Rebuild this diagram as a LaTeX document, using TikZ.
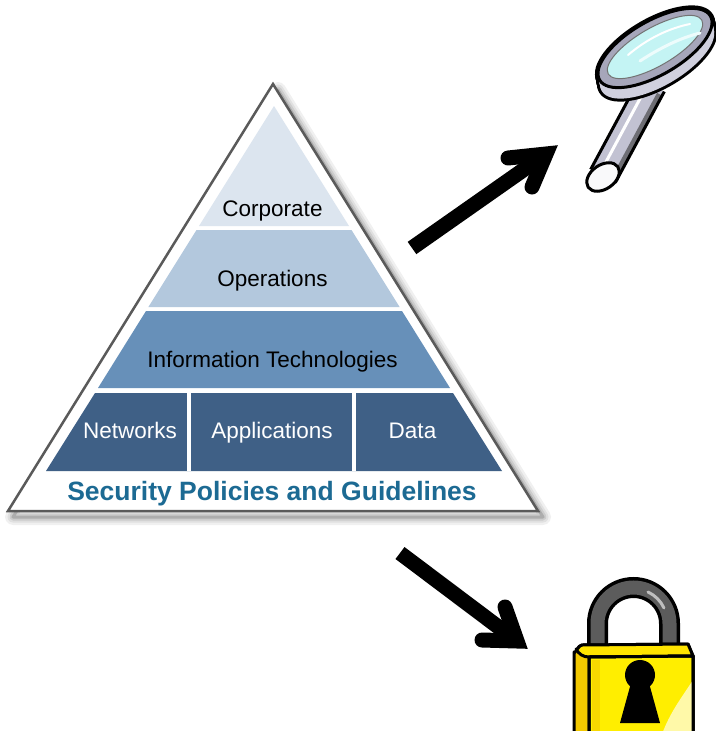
\documentclass[tikz,border=0pt]{standalone}
\usepackage{fontspec}
\setmainfont{Liberation Sans}
\usetikzlibrary{calc}

\definecolor{bandTop}{HTML}{DCE5EF}
\definecolor{bandOps}{HTML}{B3C8DD}
\definecolor{bandIT}{HTML}{6790B9}
\definecolor{bandBase}{HTML}{3F6086}
\definecolor{policyBlue}{HTML}{1C6A93}
\definecolor{edgeGray}{HTML}{5A5A5A}
\definecolor{glass}{HTML}{C4F4F4}
\definecolor{rim}{HTML}{A6A6BA}
\definecolor{rimSide}{HTML}{D0D0DE}
\definecolor{steel}{HTML}{C2C2D2}
\definecolor{steelDark}{HTML}{6E6E74}
\definecolor{lockSide}{HTML}{F2C800}
\definecolor{lockTop}{HTML}{FFE400}
\definecolor{lockFront}{HTML}{FFEE00}
\definecolor{lockShine}{HTML}{FFF9A8}
\definecolor{shackle}{HTML}{5C5C5C}

\tikzset{
  label/.style={font=\fontsize{22.5}{27}\selectfont, inner sep=0pt, anchor=base},
  darklabel/.style={label, text=black},
  lightlabel/.style={label, text=white},
  policy/.style={font=\fontsize{26.5}{30}\selectfont\bfseries, text=policyBlue, inner sep=0pt, anchor=base},
  bigarrow/.style={line width=15pt, black},
  outline/.style={draw=black, line width=3pt, line join=round},
}

\begin{document}
\begin{tikzpicture}[x=1pt,y=-1pt]
\useasboundingbox (0,0) rectangle (715,731);

% ---------- pyramid: soft drop shadow ----------
\foreach \w/\c in {16/6, 11/12, 7/20, 3/32} {
  \draw[black!\c, line width=\w pt, line join=round]
    (278,90) -- (543,517) -- (13,517) -- cycle;
}
% outer frame
\draw[fill=white, draw=edgeGray, line width=2.5pt, line join=miter]
  (273,84) -- (538,511) -- (8,511) -- cycle;

% tiers
\fill[bandTop]  (274,106) -- (349,226) -- (199,226) -- cycle;
\fill[bandOps]  (196.5,230) -- (351.5,230) -- (399.6,307) -- (148.4,307) -- cycle;
\fill[bandIT]   (146,311) -- (402,311) -- (450,388) -- (98,388) -- cycle;
\fill[bandBase] (95,393) -- (453,393) -- (502,471) -- (46,471) -- cycle;
% separators of the base tier
\fill[white] (187,393) rectangle (190.5,471);
\fill[white] (352,393) rectangle (355.5,471);

% tier labels
\node[darklabel]  (corp) at (272.5,216) {Corporate};
\node[darklabel]  (ops)  at (272.5,286) {Operations};
\node[darklabel]  (it)   at (272.5,367) {Information Technologies};
\node[lightlabel] (net)  at (130,438)   {Networks};
\node[lightlabel] (app)  at (272,438)   {Applications};
\node[lightlabel] (data) at (412.5,438) {Data};
\node[policy]     (pol)  at (272,500)   {Security Policies and Guidelines};

% ---------- arrows ----------
\coordinate (upTail) at (412,248);
\coordinate (upHead) at (546,154);
\coordinate (upArmA) at (508,158);
\coordinate (upArmB) at (532,187);
\draw[bigarrow, line cap=butt] (upTail) -- (upHead);
\draw[bigarrow, line cap=round, line join=miter] (upArmA) -- (upHead) -- (upArmB);

\coordinate (dnTail) at (400,553);
\coordinate (dnHead) at (517,641);
\coordinate (dnArmA) at (505,607);
\coordinate (dnArmB) at (482,640);
\draw[bigarrow, line cap=butt] (dnTail) -- (dnHead);
\draw[bigarrow, line cap=round, line join=miter] (dnArmA) -- (dnHead) -- (dnArmB);

% ---------- magnifying glass ----------
% handle
\path[fill=steel] (590.7,169.4) -- (639.7,78.4) -- (664.3,91.6) -- (615.3,182.6) -- cycle;
\begin{scope}
  \clip (590.7,169.4) -- (639.7,78.4) -- (664.3,91.6) -- (615.3,182.6) -- cycle;
  \draw[steelDark, line width=9pt] (612,186) -- (661,95);
  \draw[white, line width=3pt] (600,173) -- (649,82);
\end{scope}
\draw[outline] (590.7,169.4) -- (639.7,78.4);
\draw[outline] (615.3,182.6) -- (664.3,91.6);
% end cap of the handle
\draw[outline, fill=white!90!steel, rotate around={35:(603,177)}]
  (603,177) ellipse [x radius=18pt, y radius=12pt];

% lens body (thickness)
\foreach \t in {0,1,...,11} {
  \draw[black, line width=6pt] ($(655,48)+(0.2*\t,\t)$) ellipse [x radius=64pt, y radius=27pt, rotate=30];
}
\foreach \t in {0,1,...,11} {
  \fill[rimSide] ($(655,48)+(0.2*\t,\t)$) ellipse [x radius=64pt, y radius=27pt, rotate=30];
}
% front rim and glass
\draw[fill=rim, draw=black, line width=3pt] (655,48) ellipse [x radius=64pt, y radius=27pt, rotate=30];
\draw[fill=glass, draw=black!55, line width=1pt] (655,47) ellipse [x radius=54pt, y radius=19pt, rotate=30];
\draw[white, line width=2pt, line cap=round] (628,55) .. controls (648,38) and (670,28) .. (690,24);
\draw[white!70!glass, line width=3pt, line cap=round] (640,61) .. controls (660,48) and (680,38) .. (700,33);

% ---------- padlock ----------
% shackle
\draw[black, line width=21pt] (597.5,660) -- (597.5,623.5) arc[start angle=180, end angle=0, radius=36pt] -- (669.5,660);
\draw[shackle, line width=14pt] (597.5,660) -- (597.5,623.5) arc[start angle=180, end angle=0, radius=36pt] -- (669.5,660);
\draw[white!60!shackle, line width=3pt, line cap=round] (648,592) arc[start angle=65, end angle=25, radius=33pt];

% body: side, top, front
\draw[outline, fill=lockSide] (574,745) -- (574,652) to[out=-90,in=180] (582,645) -- (688,644) -- (693,656) -- (693,745) -- cycle;
\draw[outline, fill=lockTop] (582,645) -- (688,644) -- (693,656) -- (589,657) to[out=180,in=-60] (576,649) to[out=-80,in=180] cycle;
\draw[outline, fill=lockFront] (589,745) -- (589,657) -- (693,656) -- (693,745) -- cycle;
\begin{scope}
  \clip (589,745) -- (589,657) -- (693,656) -- (693,745) -- cycle;
  \fill[lockShine] (693,680) .. controls (680,700) and (668,715) .. (660,740) -- (700,740) -- cycle;
  \fill[lockSide!60!lockFront] (592,660) -- (600,660) -- (600,745) -- (592,745) -- cycle;
\end{scope}
\draw[outline] (589,745) -- (589,657) -- (693,656) -- (693,745);

% keyhole
\fill[black] (640,675) circle (15pt);
\fill[black] (631,683) -- (649,683) -- (660,723) -- (620,723) -- cycle;
\end{tikzpicture}
\end{document}
